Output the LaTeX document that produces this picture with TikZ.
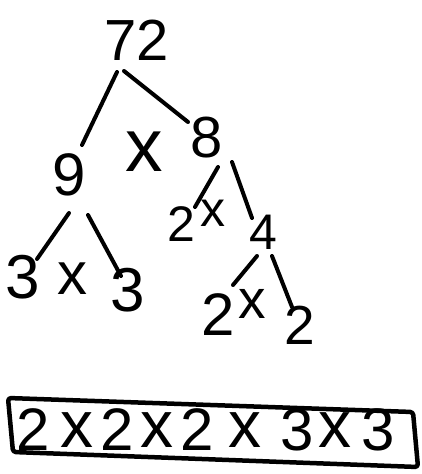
\documentclass[tikz,border=0pt]{standalone}
\usepackage{fontspec}
\setmainfont{Liberation Sans}
\usetikzlibrary{positioning, calc}
\definecolor{inkBlack}{HTML}{000000}

\begin{document}
\begin{tikzpicture}[x=1pt, y=-1pt,
    digit/.style={inner sep=0pt, text=inkBlack, font=\fontsize{58}{58}\selectfont},
    timesmark/.style={inner sep=0pt, text=inkBlack, font=\fontsize{60}{60}\selectfont},
    branch/.style={draw=inkBlack, line width=4pt, line cap=round},
    answerbox/.style={draw=inkBlack, line width=4.5pt, line join=round, rounded corners=3pt}]
        \useasboundingbox (0,0) rectangle (422,474);
        % top of the tree
        \node[inner sep=0pt, text=inkBlack, font=\fontsize{58}{58}\selectfont] (n72) at (137,40) {72};
        \node[digit, font=\fontsize{60}{60}\selectfont] (n9) at (69,175) {9};
        \node[timesmark, font=\fontsize{75}{75}\selectfont] (times1) at (144,152) {x};
        \node[digit] (n8) at (207,138) {8};
        \draw[branch] ([shift={(-20,32)}]n72.center) -- ([shift={(13,-30)}]n9.center);
        \draw[branch] ([shift={(-13,31)}]n72.center) -- ([shift={(-19,-16)}]n8.center);
        % 9 = 3 x 3
        \node[digit, font=\fontsize{62}{62}\selectfont] (n3a) at (23,277) {3};
        \node[timesmark] (times2) at (72,279) {x};
        \node[digit, font=\fontsize{62}{62}\selectfont] (n3b) at (128,290) {3};
        \draw[branch] ([shift={(0,38)}]n9.center) -- ([shift={(14,-18)}]n3a.center);
        \draw[branch] ([shift={(19,40)}]n9.center) -- ([shift={(-7,-14)}]n3b.center);
        % 8 = 2 x 4
        \node[digit, font=\fontsize{50}{50}\selectfont] (n2a) at (181,224) {2};
        \node[timesmark, font=\fontsize{50}{50}\selectfont] (times3) at (213,213) {x};
        \node[digit, font=\fontsize{50}{50}\selectfont] (n4) at (263,232) {4};
        \draw[branch] ([shift={(11,29)}]n8.center) -- ([shift={(14,-17)}]n2a.center);
        \draw[branch] ([shift={(25,24)}]n8.center) -- ([shift={(-11,-14)}]n4.center);
        % 4 = 2 x 2
        \node[digit, font=\fontsize{60}{60}\selectfont] (n2b) at (218,315) {2};
        \node[timesmark, font=\fontsize{55}{55}\selectfont] (times4) at (252,304) {x};
        \node[digit, font=\fontsize{55}{55}\selectfont] (n2c) at (300,325) {2};
        \draw[branch] ([shift={(-6,24)}]n4.center) -- ([shift={(15,-30)}]n2b.center);
        \draw[branch] ([shift={(9,24)}]n4.center) -- ([shift={(-8,-18)}]n2c.center);
        % the answer in a box
        \foreach \ch/\xpos/\sz [count=\i] in {2/33/60, x/77/66, 2/117/60, x/157/66, 2/197/60, x/245/66, 3/297/60, x/335/66, 3/378/60} {
          \node[digit, font=\fontsize{\sz}{\sz}\selectfont] (ans\i) at (\xpos,430) {\ch};
        }
        \draw[answerbox] (8,398) -- (413,412) -- (418,467) -- (13,452) -- cycle;
      \end{tikzpicture}
\end{document}
